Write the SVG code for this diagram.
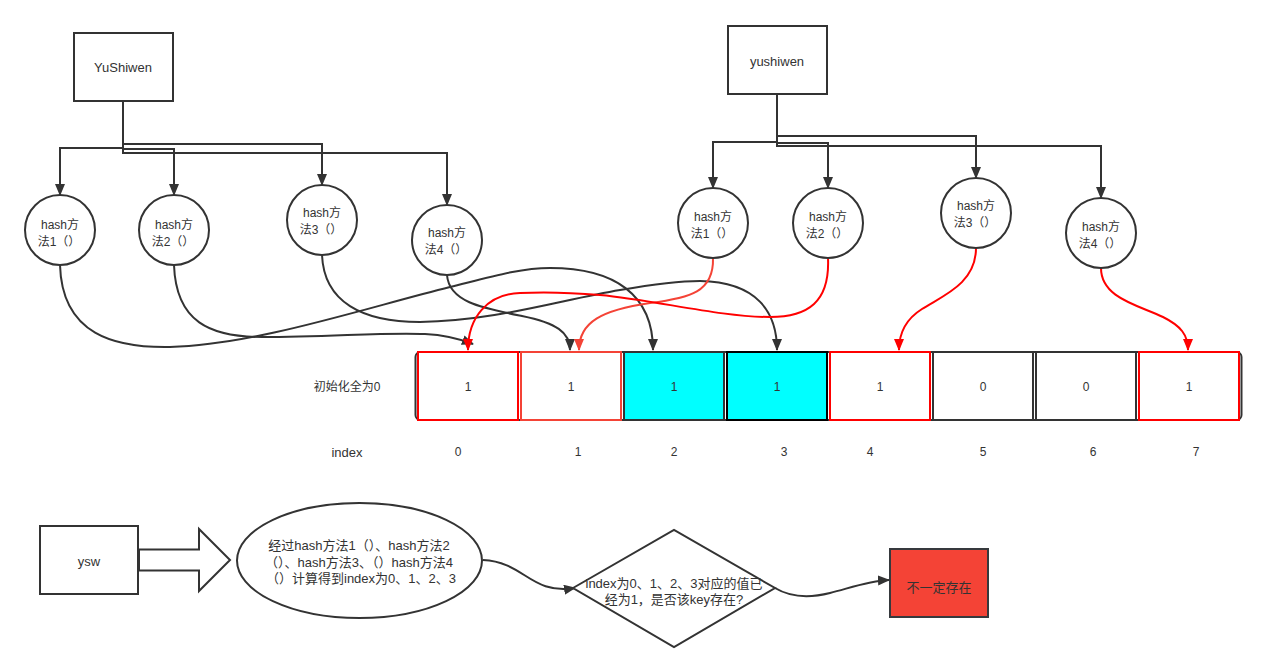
<svg xmlns="http://www.w3.org/2000/svg" width="1281" height="672" viewBox="0 0 1281 672">
<defs>
<style>
text{font-family:"Liberation Sans","Noto Sans CJK SC",sans-serif;font-size:12px;fill:#333;text-anchor:middle;dominant-baseline:central}
text.b{font-size:13px}
.n{fill:#fff;stroke:#333;stroke-width:2}
.e{fill:none;stroke:#333;stroke-width:2}
.er{fill:none;stroke:#ff0000;stroke-width:2}
.el{fill:none;stroke:#f44336;stroke-width:2}
</style>
<marker id="ab" markerUnits="userSpaceOnUse" markerWidth="12" markerHeight="10" viewBox="0 0 12 10" refX="11" refY="5" orient="auto"><path d="M0,0 L12,5 L0,10 Z" fill="#333"/></marker>
<marker id="ar" markerUnits="userSpaceOnUse" markerWidth="12" markerHeight="10" viewBox="0 0 12 10" refX="11" refY="5" orient="auto"><path d="M0,0 L12,5 L0,10 Z" fill="#ff0000"/></marker>
<marker id="al" markerUnits="userSpaceOnUse" markerWidth="12" markerHeight="10" viewBox="0 0 12 10" refX="11" refY="5" orient="auto"><path d="M0,0 L12,5 L0,10 Z" fill="#f44336"/></marker>
</defs>
<rect width="1281" height="672" fill="#fff"/>

<g id="connectors">
<path class="e" marker-end="url(#ab)" d="M123,102 V148 H60 V195"/>
<path class="e" marker-end="url(#ab)" d="M123,102 V149 H174 V195"/>
<path class="e" marker-end="url(#ab)" d="M123,102 V144 H322 V185"/>
<path class="e" marker-end="url(#ab)" d="M123,102 V153 H447 V205"/>
<path class="e" marker-end="url(#ab)" d="M777,95 V142 H713 V188"/>
<path class="e" marker-end="url(#ab)" d="M777,95 V143 H828 V188"/>
<path class="e" marker-end="url(#ab)" d="M777,95 V136 H976 V178"/>
<path class="e" marker-end="url(#ab)" d="M777,95 V146 H1101 V198"/>

<path class="e" marker-end="url(#ab)" d="M60,265 C62,335 115,348 170,347 C255,345 365,308 450,287 C490,277 520,268 550,268 C615,268 653,295 653,350"/>
<path class="e" marker-end="url(#ab)" d="M174,265 C176,322 210,337 262,337 C330,337 385,332 425,334 C445,335 460,339 473,344"/>
<path class="e" marker-end="url(#ab)" d="M322,255 C324,302 362,322 420,322 C495,321 560,300 620,290 C655,284 680,281 700,281 C757,282 777,312 777,350"/>
<path class="e" marker-end="url(#ab)" d="M447,275 C449,302 482,308 522,316 C556,323 570,332 570,350"/>

<path class="el" marker-end="url(#al)" d="M713,258 C714,292 690,298 650,303 C602,310 579,322 579,350"/>
<path class="er" marker-end="url(#ar)" d="M828,258 C830,302 808,317 770,317 C720,317 655,300 600,295 C565,292 540,292 520,293 C487,294 468,318 468,350"/>
<path class="er" marker-end="url(#ar)" d="M976,248 C976,284 942,296 922,309 C906,319 899,332 899,350"/>
<path class="er" marker-end="url(#ar)" d="M1101,268 C1101,298 1138,305 1163,317 C1181,326 1188,335 1188,350"/>

<path class="e" marker-end="url(#ab)" d="M483,560 C525,562 530,595 575,588"/>
<path class="e" marker-end="url(#ab)" d="M775,588 C790,597 810,598 830,593 C850,588 868,581 889,580"/>
</g>

<g id="YuShiwen"><rect class="n" x="74" y="33" width="99" height="68"/><text class="b" x="123" y="67">YuShiwen</text></g>
<g id="yushiwen"><rect class="n" x="728" y="26" width="99" height="68"/><text class="b" x="777" y="61">yushiwen</text></g>

<g id="Y1"><circle class="n" cx="60" cy="230" r="35"/><text x="60" y="225">hash方</text><text x="59" y="242">法1（）</text></g>
<g id="Y2"><circle class="n" cx="174" cy="230" r="35"/><text x="174" y="225">hash方</text><text x="173" y="242">法2（）</text></g>
<g id="Y3"><circle class="n" cx="322" cy="220" r="35"/><text x="322" y="213">hash方</text><text x="321" y="230">法3（）</text></g>
<g id="Y4"><circle class="n" cx="447" cy="240" r="35"/><text x="447" y="233">hash方</text><text x="446" y="250">法4（）</text></g>

<g id="y1"><circle class="n" cx="713" cy="223" r="35"/><text x="713" y="217">hash方</text><text x="712" y="234">法1（）</text></g>
<g id="y2"><circle class="n" cx="828" cy="223" r="35"/><text x="828" y="217">hash方</text><text x="827" y="234">法2（）</text></g>
<g id="y3"><circle class="n" cx="976" cy="213" r="35"/><text x="976" y="206">hash方</text><text x="975" y="223">法3（）</text></g>
<g id="y4"><circle class="n" cx="1101" cy="233" r="35"/><text x="1101" y="227">hash方</text><text x="1100" y="244">法4（）</text></g>

<g id="array">
<rect x="415.5" y="352" width="826" height="68" rx="5" fill="none" stroke="#333" stroke-width="2"/>
<g id="cell0"><rect x="418" y="352" width="100" height="68" fill="#fff" stroke="#ff0000" stroke-width="2"/><text x="468" y="387">1</text></g>
<g id="cell1"><rect x="521" y="352" width="100" height="68" fill="#fff" stroke="#f44336" stroke-width="2"/><text x="571" y="387">1</text></g>
<g id="cell2"><rect x="624" y="352" width="100" height="68" fill="#00ffff" stroke="#333" stroke-width="2"/><text x="674" y="387">1</text></g>
<g id="cell3"><rect x="727" y="352" width="100" height="68" fill="#00ffff" stroke="#000" stroke-width="2"/><text x="777" y="387">1</text></g>
<g id="cell4"><rect x="830" y="352" width="100" height="68" fill="#fff" stroke="#ff0000" stroke-width="2"/><text x="880" y="387">1</text></g>
<g id="cell5"><rect x="933" y="352" width="100" height="68" fill="#fff" stroke="#333" stroke-width="2"/><text x="983" y="387">0</text></g>
<g id="cell6"><rect x="1036" y="352" width="100" height="68" fill="#fff" stroke="#333" stroke-width="2"/><text x="1086" y="387">0</text></g>
<g id="cell7"><rect x="1139" y="352" width="100" height="68" fill="#fff" stroke="#ff0000" stroke-width="2"/><text x="1189" y="387">1</text></g>
</g>

<g id="labels">
<text x="347" y="387">初始化全为0</text>
<text class="b" x="347" y="452">index</text>
<text x="458" y="452">0</text>
<text x="578" y="452">1</text>
<text x="674" y="452">2</text>
<text x="784" y="452">3</text>
<text x="870" y="452">4</text>
<text x="983" y="452">5</text>
<text x="1093" y="452">6</text>
<text x="1196" y="452">7</text>
</g>

<g id="ysw"><rect class="n" x="40" y="526" width="98" height="68"/><text class="b" x="89" y="561">ysw</text></g>
<g id="bigArrow"><polygon class="n" points="139,549.5 199,549.5 199,529 230,560 199,591 199,570.5 139,570.5"/></g>
<g id="ellipse"><ellipse class="n" cx="359.5" cy="560.5" rx="122.5" ry="57.5"/>
<text class="b" x="359" y="545">经过hash方法1（）、hash方法2</text>
<text class="b" x="359" y="562">（）、hash方法3、（）hash方法4</text>
<text class="b" x="361" y="578">（）计算得到index为0、1、2、3</text></g>
<g id="diamond"><polygon class="n" points="573,588 674,530 775,588 674,647"/>
<text class="b" x="674" y="583">index为0、1、2、3对应的值已</text>
<text class="b" x="674" y="599">经为1，是否该key存在?</text></g>
<g id="result"><rect x="890" y="549" width="98" height="68" fill="#f44336" stroke="#36393d" stroke-width="2"/><text class="b" x="939" y="587">不一定存在</text></g>
</svg>
